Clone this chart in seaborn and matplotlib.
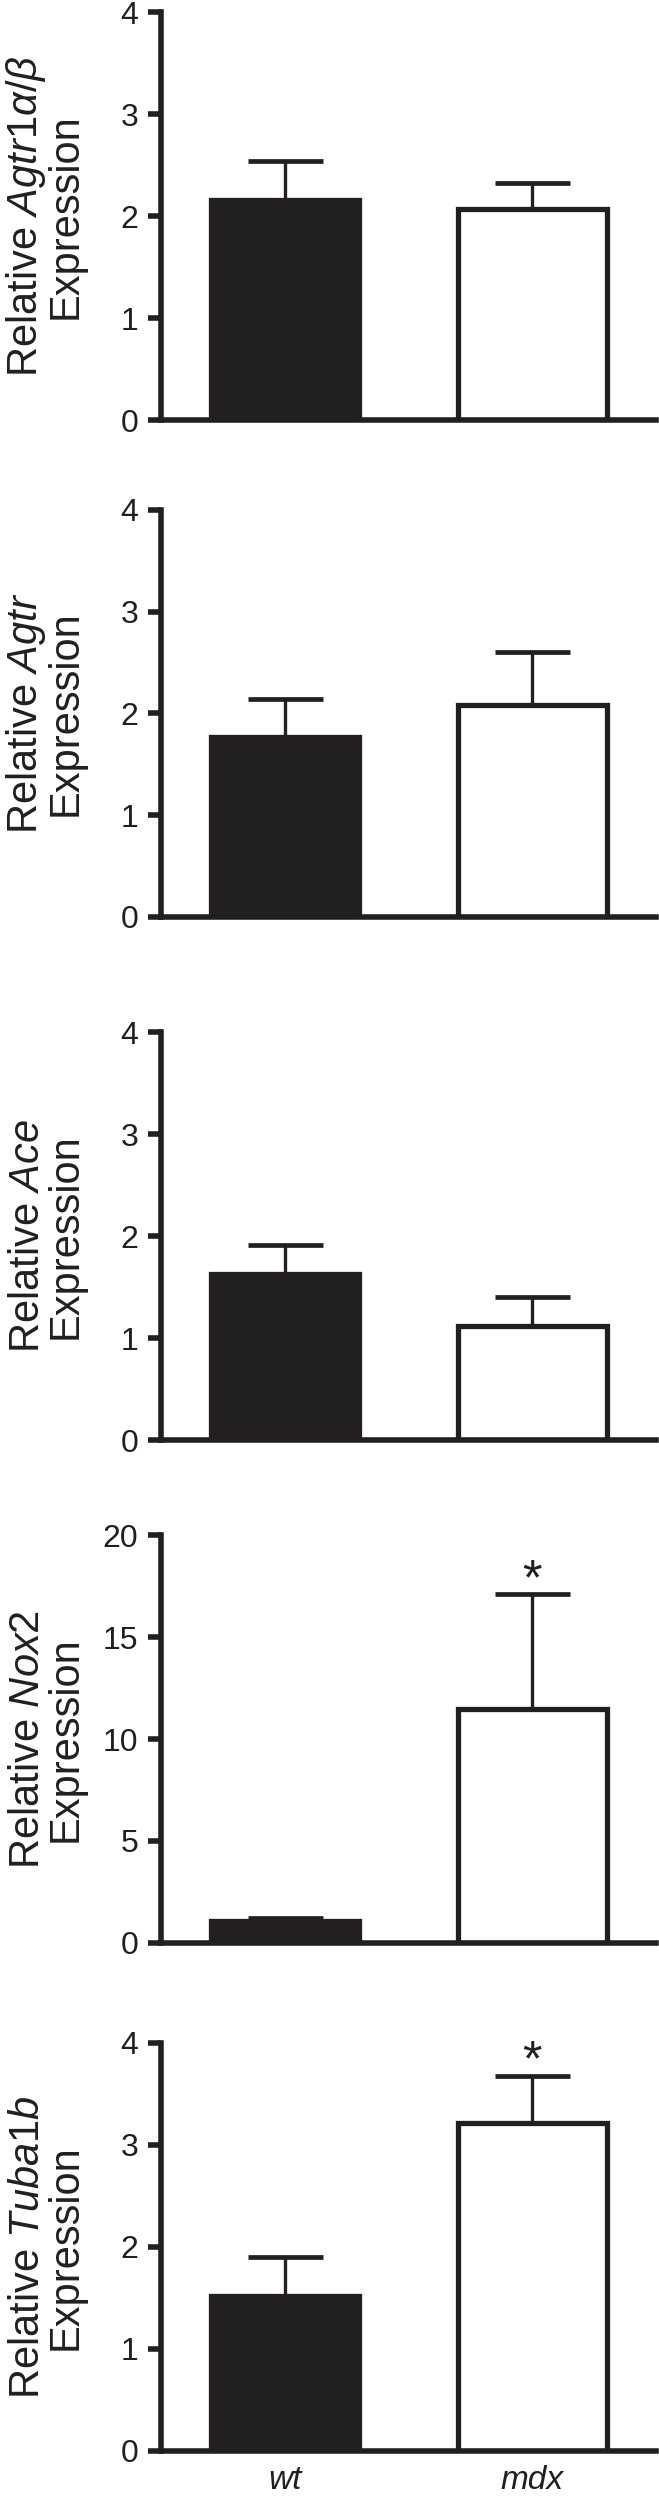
import numpy as np
import pandas as pd
import seaborn as sns
import matplotlib.pyplot as plt

# values (mean and upper error bar length)
genes = ["Agtr1α/β", "Agtr", "Ace", "Nox2", "Tuba1b"]
groups = ["wt", "mdx"]
wt_mean = [2.16, 1.77, 1.63, 1.10, 1.52]
wt_err = [0.38, 0.37, 0.28, 0.11, 0.38]
mdx_mean = [2.07, 2.08, 1.12, 11.49, 3.22]
mdx_err = [0.25, 0.52, 0.28, 5.61, 0.46]
y_max = [4, 4, 4, 20, 4]
y_step = [1, 1, 1, 5, 1]
significant = [False, False, False, True, True]

bar_colors = ["#231f20", "white"]
ink = "#231f20"

sns.set_style("ticks")
plt.rcParams["font.family"] = ["Liberation Sans", "DejaVu Sans"]
plt.rcParams["mathtext.fontset"] = "custom"
plt.rcParams["mathtext.rm"] = "Liberation Sans"
plt.rcParams["mathtext.it"] = "Liberation Sans:italic"
narrow = ["Liberation Sans Narrow", "Liberation Sans", "DejaVu Sans"]

W, H = 659, 2497
fig = plt.figure(figsize=(W / 100, H / 100), dpi=100)

# panel frame in pixels (top of y axis, bottom of y axis)
tops = [12, 510, 1032, 1535, 2043]
bottoms = [420, 917, 1440, 1943, 2451]
left_px, right_px = 161, 656

for i, gene in enumerate(genes):
    ax = fig.add_axes([left_px / W, 1 - bottoms[i] / H,
                       (right_px - left_px) / W, (bottoms[i] - tops[i]) / H])
    df = pd.DataFrame({"group": groups,
                       "value": [wt_mean[i], mdx_mean[i]],
                       "err": [wt_err[i], mdx_err[i]]})

    # error bars only upward, behind the bars
    ax.errorbar([0, 1], df["value"], yerr=[[0, 0], df["err"]], fmt="none",
                ecolor=ink, elinewidth=2.4, capsize=27, capthick=3.4, zorder=1)

    sns.barplot(data=df, x="group", y="value", hue="group", palette=bar_colors,
                width=0.6, edgecolor=ink, linewidth=3.8, legend=False,
                errorbar=None, ax=ax, zorder=2)

    ax.set_xlim(-0.5, 1.5)
    ax.set_ylim(0, y_max[i])
    ax.set_yticks(np.arange(0, y_max[i] + 1, y_step[i]))
    sns.despine(ax=ax)
    for s in ["left", "bottom"]:
        ax.spines[s].set_linewidth(4)
        ax.spines[s].set_color(ink)
        ax.spines[s].set_capstyle("projecting")
    ax.tick_params(axis="y", length=9.5, width=4, color=ink, pad=7,
                   labelsize=23, labelcolor=ink)
    for lab in ax.get_yticklabels():
        lab.set_family(narrow)
    ax.tick_params(axis="x", length=0, pad=10, labelsize=24, labelcolor=ink)

    if i == len(genes) - 1:
        ax.set_xticks([0, 1], groups, fontstyle="italic")
    else:
        ax.set_xticks([0, 1], ["", ""])
    ax.set_xlabel("")

    ax.set_ylabel("Relative $\\mathit{" + gene + "}$\nExpression",
                  fontsize=30, color=ink, linespacing=0.95)
    ax.yaxis.set_label_coords((86 - left_px) / (right_px - left_px), 0.5)

    if significant[i]:
        ax.annotate("*", xy=(1, mdx_mean[i] + mdx_err[i]), xytext=(0, 0),
                    textcoords="offset points", ha="center", va="baseline",
                    fontsize=36, color=ink)

fig.savefig("out.png", dpi=100)
